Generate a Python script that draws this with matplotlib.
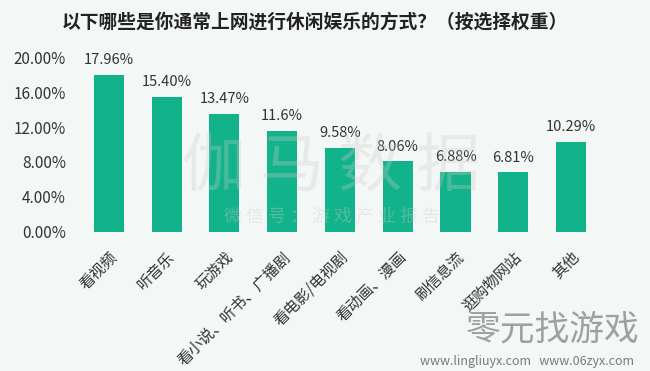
import matplotlib.pyplot as plt

plt.rcParams['font.family'] = ['Noto Sans CJK SC', 'DejaVu Sans']

categories = ['看视频', '听音乐', '玩游戏', '看小说、听书、广播剧', '看电影/电视剧',
              '看动画、漫画', '刷信息流', '逛购物网站', '其他']
values = [17.96, 15.40, 13.47, 11.6, 9.58, 8.06, 6.88, 6.81, 10.29]
value_labels = ['17.96%', '15.40%', '13.47%', '11.6%', '9.58%', '8.06%', '6.88%', '6.81%', '10.29%']
yticks = [0, 4, 8, 12, 16, 20]

bg = '#f3f7f5'
bar_color = '#12b38a'
text_color = '#333333'

fig = plt.figure(figsize=(6.5, 3.71), dpi=100, facecolor=bg)
ax = fig.add_axes([0.123, 0.375, 0.8, 0.471], facecolor=bg)

x = range(len(categories))
ax.bar(x, values, width=0.52, color=bar_color, zorder=2)
for xi, v, lab in zip(x, values, value_labels):
    ax.text(xi, v + 0.9, lab, ha='center', va='bottom', fontsize=10.5, color=text_color, zorder=3)

ax.set_xlim(-0.5, len(categories) - 0.5)
ax.set_ylim(0, 20)
ax.set_yticks(yticks)
ax.set_yticklabels([f'{t:.2f}%' for t in yticks], fontsize=11, color=text_color)
ax.set_xticks(list(x))
ax.set_xticklabels(categories, rotation=45, ha='right', va='top',
                   rotation_mode='anchor', fontsize=11, color=text_color)
ax.tick_params(length=0, pad=10)
ax.tick_params(axis='x', pad=12)
for s in ax.spines.values():
    s.set_visible(False)

fig.text(0.485, 0.94, '以下哪些是你通常上网进行休闲娱乐的方式？（按选择权重）',
         ha='center', va='center', fontsize=13.5, fontweight='bold', color='#222222')

# watermarks
fig.text(0.51, 0.545, '伽 马 数 据', ha='center', va='center', fontsize=46,
         color='#cccccc', alpha=0.3, zorder=0)
fig.text(0.51, 0.415, '微 信 号 ： 游 戏 产 业 报 告', ha='center', va='center', fontsize=13,
         color='#cccccc', alpha=0.35, zorder=0)
fig.text(0.85, 0.11, '零元找游戏', ha='center', va='center', fontsize=25,
         color='#8a8a8a', alpha=0.8)
fig.text(0.81, 0.025, 'www.lingliuyx.com   www.06zyx.com', ha='center', va='center',
         fontsize=9, color='#7a7a7a')

fig.savefig('out.png', dpi=100, facecolor=bg)
